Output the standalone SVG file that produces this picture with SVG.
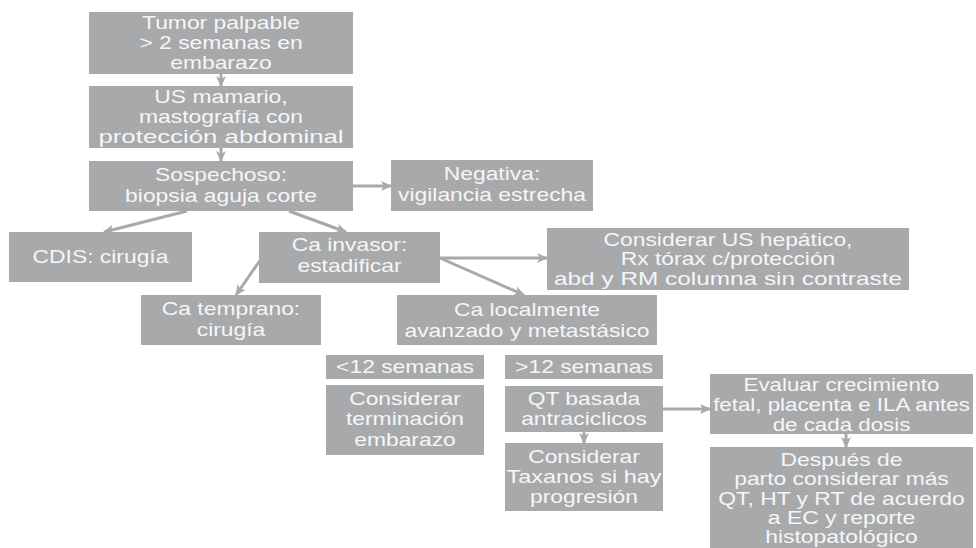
<svg xmlns="http://www.w3.org/2000/svg" width="976" height="548" viewBox="0 0 976 548">
<defs>
<style>
.b{fill:#a8a9ab}
.t{font-family:"Liberation Sans",Arial,Helvetica,sans-serif;font-size:18px;fill:#f6f6f6;text-anchor:middle}
.c line{stroke:#a8a9ab;stroke-width:3;fill:none;marker-end:url(#ah)}
</style>
<marker id="ah" markerUnits="userSpaceOnUse" markerWidth="12" markerHeight="10" refX="10" refY="5" orient="auto">
<path d="M0,0 L11,5 L0,10 L3,5 Z" fill="#a8a9ab"/>
</marker>
</defs>
<rect width="976" height="548" fill="#ffffff"/>
<g id="n1"><rect class="b" x="89" y="12" width="264" height="62"/>
<text class="t" transform="translate(221 0) scale(1.27 1)"><tspan x="0" y="29">Tumor palpable</tspan><tspan x="0" y="49">&gt; 2 semanas en</tspan><tspan x="0" y="69">embarazo</tspan></text></g>
<g id="n2"><rect class="b" x="89" y="86" width="264" height="62"/>
<text class="t" transform="translate(221 0) scale(1.27 1)"><tspan x="0" y="103.5">US mamario,</tspan><tspan x="0" y="123.5">mastografía con</tspan><tspan x="0" y="143.5" textLength="193" lengthAdjust="spacingAndGlyphs">protección abdominal</tspan></text></g>
<g id="n3"><rect class="b" x="89" y="161" width="264" height="50"/>
<text class="t" transform="translate(221 0) scale(1.27 1)"><tspan x="0" y="181">Sospechoso:</tspan><tspan x="0" y="202">biopsia aguja corte</tspan></text></g>
<g id="n4"><rect class="b" x="391" y="160" width="202" height="51"/>
<text class="t" transform="translate(492 0) scale(1.27 1)"><tspan x="0" y="180">Negativa:</tspan><tspan x="0" y="201">vigilancia estrecha</tspan></text></g>
<g id="n5"><rect class="b" x="9" y="232" width="183" height="50"/>
<text class="t" transform="translate(100.5 0) scale(1.27 1)"><tspan x="0" y="263">CDIS: cirugía</tspan></text></g>
<g id="n6"><rect class="b" x="259" y="232" width="181" height="51"/>
<text class="t" transform="translate(349.5 0) scale(1.27 1)"><tspan x="0" y="251">Ca invasor:</tspan><tspan x="0" y="272">estadificar</tspan></text></g>
<g id="n7"><rect class="b" x="547" y="228" width="362" height="62"/>
<text class="t" transform="translate(728 0) scale(1.27 1)"><tspan x="0" y="246">Considerar US hepático,</tspan><tspan x="0" y="265.5">Rx tórax c/protección</tspan><tspan x="0" y="285" textLength="274" lengthAdjust="spacingAndGlyphs">abd y RM columna sin contraste</tspan></text></g>
<g id="n8"><rect class="b" x="141" y="295" width="180" height="50"/>
<text class="t" transform="translate(231 0) scale(1.27 1)"><tspan x="0" y="315">Ca temprano:</tspan><tspan x="0" y="336">cirugía</tspan></text></g>
<g id="n9"><rect class="b" x="397" y="295" width="260" height="50"/>
<text class="t" transform="translate(527 0) scale(1.27 1)"><tspan x="0" y="316">Ca localmente</tspan><tspan x="0" y="337">avanzado y metastásico</tspan></text></g>
<g id="n10"><rect class="b" x="326" y="355" width="158" height="24"/>
<text class="t" transform="translate(405 0) scale(1.27 1)"><tspan x="0" y="373">&lt;12 semanas</tspan></text></g>
<g id="n11"><rect class="b" x="505" y="355" width="158" height="24"/>
<text class="t" transform="translate(584 0) scale(1.27 1)"><tspan x="0" y="373">&gt;12 semanas</tspan></text></g>
<g id="n12"><rect class="b" x="326" y="385" width="158" height="70"/>
<text class="t" transform="translate(405 0) scale(1.27 1)"><tspan x="0" y="405">Considerar</tspan><tspan x="0" y="425.5">terminación</tspan><tspan x="0" y="446">embarazo</tspan></text></g>
<g id="n13"><rect class="b" x="505" y="386" width="158" height="46"/>
<text class="t" transform="translate(584 0) scale(1.27 1)"><tspan x="0" y="405">QT basada</tspan><tspan x="0" y="425">antraciclicos</tspan></text></g>
<g id="n14"><rect class="b" x="505" y="443" width="158" height="68"/>
<text class="t" transform="translate(584 0) scale(1.27 1)"><tspan x="0" y="463">Considerar</tspan><tspan x="0" y="483" textLength="122" lengthAdjust="spacingAndGlyphs">Taxanos si hay</tspan><tspan x="0" y="503">progresión</tspan></text></g>
<g id="n15"><rect class="b" x="710" y="374" width="263" height="60"/>
<text class="t" transform="translate(841.5 0) scale(1.24 1)"><tspan x="0" y="391">Evaluar crecimiento</tspan><tspan x="0" y="411">fetal, placenta e ILA antes</tspan><tspan x="0" y="431">de cada dosis</tspan></text></g>
<g id="n16"><rect class="b" x="710" y="447" width="263" height="110"/>
<text class="t" transform="translate(841.5 0) scale(1.27 1)"><tspan x="0" y="466">Después de</tspan><tspan x="0" y="485.5">parto considerar más</tspan><tspan x="0" y="505">QT, HT y RT de acuerdo</tspan><tspan x="0" y="524.5">a EC y reporte</tspan><tspan x="0" y="543.5">histopatológico</tspan></text></g>
<g id="connectors" class="c">
<line x1="221" y1="74" x2="221" y2="86"/>
<line x1="221" y1="148" x2="221" y2="161"/>
<line x1="353" y1="186" x2="391" y2="186"/>
<line x1="187" y1="211" x2="104" y2="232"/>
<line x1="289" y1="211" x2="346" y2="232"/>
<line x1="440" y1="258" x2="547" y2="258"/>
<line x1="261" y1="259" x2="236" y2="295"/>
<line x1="440" y1="258" x2="524" y2="295"/>
<line x1="584" y1="432" x2="584" y2="443"/>
<line x1="663" y1="409" x2="710" y2="409"/>
<line x1="846" y1="434" x2="846" y2="447"/>
</g>
</svg>
